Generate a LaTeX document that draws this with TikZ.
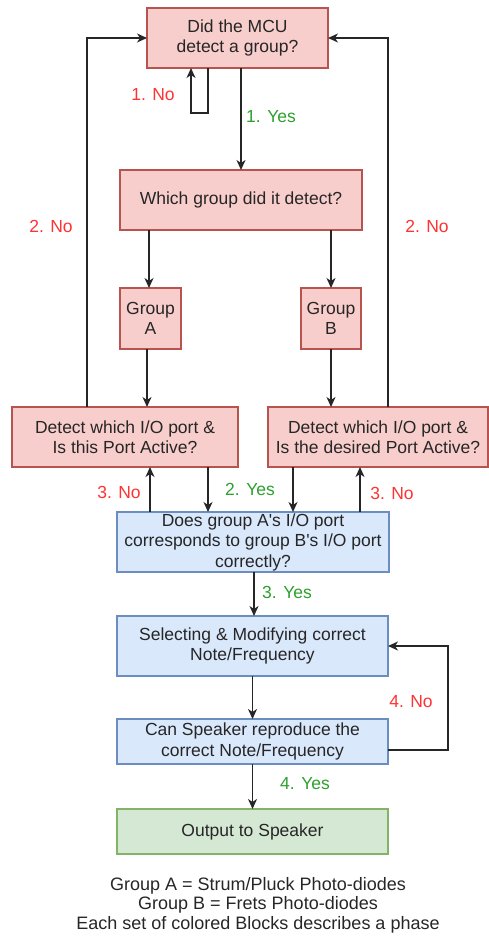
\documentclass[tikz,border=0pt]{standalone}
\usepackage{fontspec}
\setmainfont{Liberation Sans}
\usetikzlibrary{arrows.meta}
\definecolor{rfill}{HTML}{F8CECC}
\definecolor{rdraw}{HTML}{B85450}
\definecolor{bfill}{HTML}{DAE8FC}
\definecolor{bdraw}{HTML}{6C8EBF}
\definecolor{gfill}{HTML}{D5E8D4}
\definecolor{gdraw}{HTML}{82B366}
\definecolor{nored}{HTML}{FF3333}
\definecolor{yesgreen}{HTML}{2EA02E}
\tikzset{
  box/.style={draw, line width=1.2pt, outer sep=0pt, inner sep=0pt, align=center,
    font=\fontsize{17.5}{20.5}\selectfont, text=black!85},
  redbox/.style={box, fill=rfill, draw=rdraw},
  bluebox/.style={box, fill=bfill, draw=bdraw},
  greenbox/.style={box, fill=gfill, draw=gdraw},
  arr/.style={draw=black!85, line width=1.5pt, -{Stealth[length=10pt,width=9pt,inset=3pt]}},
  lab/.style={font=\fontsize{17.5}{20.5}\selectfont, inner sep=0pt},
  nolab/.style={lab, text=nored},
  yeslab/.style={lab, text=yesgreen},
  note/.style={font=\fontsize{18}{19.5}\selectfont, align=center, inner sep=0pt, text=black!85}
}
\begin{document}
\begin{tikzpicture}[x=1pt,y=-1pt]
\useasboundingbox (0,0) rectangle (489,939);
\node[redbox, minimum width=181pt, minimum height=60pt] (mcu) at (237.5,38) {Did the MCU\\detect a group?};
\node[redbox, minimum width=242pt, minimum height=60pt] (which) at (241,200) {Which group did it detect?};
\node[redbox, minimum width=61pt, minimum height=61pt] (ga) at (150.5,318.5) {Group\\A};
\node[redbox, minimum width=60pt, minimum height=61pt] (gb) at (331,318.5) {Group\\B};
\node[redbox, minimum width=226pt, minimum height=60pt] (dl) at (125,437) {Detect which I/O port \&\\Is this Port Active?};
\node[redbox, minimum width=220pt, minimum height=60pt] (dr) at (378,437) {Detect which I/O port \&\\Is the desired Port Active?};
\node[bluebox, minimum width=272pt, minimum height=60pt] (cmp) at (253,542) {Does group A\textquotesingle s I/O port\\corresponds to group B\textquotesingle s I/O port\\correctly?};
\node[bluebox, minimum width=271pt, minimum height=60pt] (sel) at (252.5,646) {Selecting \& Modifying correct\\Note/Frequency};
\node[bluebox, minimum width=271pt, minimum height=45pt] (spk) at (252.5,741.5) {Can Speaker reproduce the\\correct Note/Frequency};
\node[greenbox, minimum width=271pt, minimum height=45pt] (out) at (252.5,831.5) {Output to Speaker};
\node[note] (legend) at (258,905) {Group A = Strum/Pluck Photo-diodes\\Group B = Frets Photo-diodes\\Each set of colored Blocks describes a phase};

% connectors
\draw[arr] ([xshift=-29.5pt]mcu.south) -- ++(0,45) -| ([xshift=-46.5pt]mcu.south);
\draw[arr] (which.north |- mcu.south) -- (which.north);
\draw[arr] ([xshift=-1.5pt]ga.north |- which.south) -- ([xshift=-1.5pt]ga.north);
\draw[arr] (gb.north |- which.south) -- (gb.north);
\draw[arr] ([xshift=-3.5pt]ga.south) -- ([xshift=-3.5pt]ga.south |- dl.north);
\draw[arr] (gb.south) -- (gb.south |- dr.north);
\draw[arr] ([xshift=-38pt]dl.north) |- (mcu.west);
\draw[arr] ([xshift=10pt]dr.north) |- (mcu.east);
\draw[arr] ([xshift=-103pt]cmp.north) -- ([xshift=-103pt]cmp.north |- dl.south);
\draw[arr] ([xshift=-45pt]cmp.north |- dl.south) -- ([xshift=-45pt]cmp.north);
\draw[arr] ([xshift=40pt]cmp.north |- dr.south) -- ([xshift=40pt]cmp.north);
\draw[arr] ([xshift=107pt]cmp.north) -- ([xshift=107pt]cmp.north |- dr.south);
\draw[arr] ([xshift=1pt]cmp.south) -- ([xshift=1pt]cmp.south |- sel.north);
\draw[arr] (sel.south) -- (spk.north);
\draw[arr] (spk.south) -- (out.north);
\draw[arr] ([yshift=-8.5pt]spk.east) -- ++(60,0) |- (sel.east);

% labels
\node[nolab] (l1no) at (153,95) {1. No};
\node[yeslab] (l1yes) at (271,117) {1. Yes};
\node[nolab] (l2nol) at (51,226) {2. No};
\node[nolab] (l2nor) at (427,226) {2. No};
\node[nolab] (l3nol) at (119,492) {3. No};
\node[yeslab] (l2yes) at (250,489) {2. Yes};
\node[nolab] (l3nor) at (392,493) {3. No};
\node[yeslab] (l3yes) at (287,592) {3. Yes};
\node[nolab] (l4no) at (411,702) {4. No};
\node[yeslab] (l4yes) at (305,784) {4. Yes};
\end{tikzpicture}
\end{document}
